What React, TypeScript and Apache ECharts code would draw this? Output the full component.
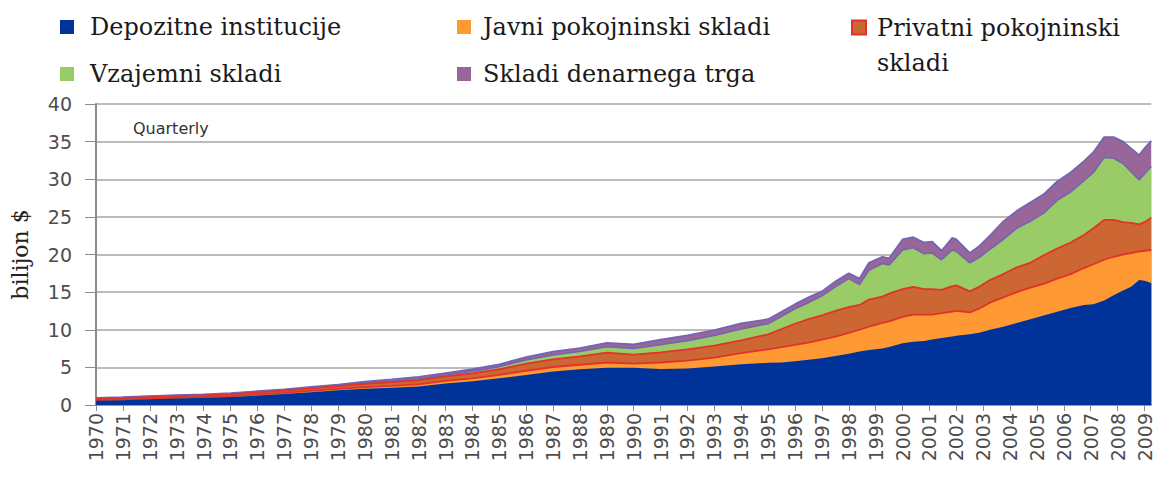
import React, { useEffect, useRef } from "react";
import * as echarts from "echarts";

// Sample dates (decimal years)
const dates = [
  1970, 1971, 1972, 1973, 1974, 1975, 1976, 1977, 1978, 1979,
  1980, 1981, 1982, 1983, 1984, 1985, 1986, 1987, 1988, 1989,
  1990, 1991, 1992, 1993, 1994,
  1995, 1995.5, 1996, 1996.5, 1997, 1997.5, 1998, 1998.4, 1998.75, 1999.25,
  1999.5, 2000, 2000.4, 2000.8, 2001.1, 2001.45, 2001.85, 2002, 2002.5, 2002.85,
  2003.25, 2003.75, 2004.25, 2004.75, 2005.25, 2005.75, 2006.25, 2006.75, 2007.1, 2007.5,
  2007.85, 2008.2, 2008.5, 2008.8, 2009, 2009.25,
];

// Values in trillion $ (each layer of the stack)
const depozitne = [
  0.55, 0.62, 0.75, 0.85, 0.95, 1.05, 1.25, 1.45, 1.7, 1.95,
  2.15, 2.3, 2.45, 2.85, 3.15, 3.55, 4.0, 4.45, 4.75, 4.95,
  4.95, 4.8, 4.85, 5.1, 5.4,
  5.6, 5.65, 5.8, 6.0, 6.2, 6.5, 6.8, 7.1, 7.3, 7.5,
  7.7, 8.2, 8.4, 8.5, 8.7, 8.9, 9.1, 9.2, 9.4, 9.6,
  10.0, 10.4, 10.9, 11.4, 11.9, 12.4, 12.9, 13.3, 13.4, 13.9,
  14.6, 15.2, 15.7, 16.6, 16.5, 16.2,
];
const javni = [
  0.1, 0.1, 0.11, 0.11, 0.12, 0.13, 0.15, 0.17, 0.18, 0.2,
  0.22, 0.25, 0.3, 0.35, 0.4, 0.45, 0.55, 0.6, 0.6, 0.7,
  0.55, 0.85, 1.05, 1.2, 1.5,
  1.8, 2.05, 2.2, 2.3, 2.5, 2.6, 2.8, 2.9, 3.1, 3.4,
  3.4, 3.5, 3.6, 3.5, 3.3, 3.3, 3.3, 3.3, 2.9, 3.2,
  3.6, 3.9, 4.1, 4.2, 4.2, 4.4, 4.5, 4.9, 5.3, 5.4,
  5.1, 4.8, 4.5, 3.8, 4.0, 4.4,
];
const privatni = [
  0.15, 0.18, 0.19, 0.2, 0.2, 0.24, 0.28, 0.3, 0.34, 0.37,
  0.45, 0.5, 0.55, 0.6, 0.65, 0.75, 0.95, 1.0, 1.1, 1.3,
  1.2, 1.35, 1.5, 1.6, 1.7,
  2.0, 2.4, 2.8, 3.1, 3.2, 3.4, 3.4, 3.3, 3.6, 3.5,
  3.7, 3.7, 3.7, 3.4, 3.4, 3.1, 3.4, 3.4, 2.8, 2.9,
  3.0, 3.1, 3.3, 3.3, 3.8, 4.0, 4.2, 4.4, 4.8, 5.3,
  4.9, 4.3, 4.0, 3.6, 3.8, 4.3,
];
const vzajemni = [
  0.08, 0.08, 0.09, 0.08, 0.06, 0.07, 0.08, 0.08, 0.08, 0.08,
  0.1, 0.1, 0.15, 0.2, 0.25, 0.35, 0.5, 0.6, 0.65, 0.8,
  0.8, 1.0, 1.15, 1.35, 1.5,
  1.4, 1.7, 2.0, 2.2, 2.6, 3.2, 3.8, 2.7, 3.9, 4.4,
  3.8, 5.2, 5.2, 4.7, 4.8, 4.0, 4.8, 4.5, 3.8, 3.9,
  4.1, 4.6, 5.2, 5.5, 5.6, 6.4, 6.7, 7.2, 7.4, 8.3,
  8.2, 7.8, 6.8, 5.9, 6.4, 6.8,
];
const denarni = [
  0.05, 0.05, 0.05, 0.06, 0.07, 0.08, 0.07, 0.08, 0.1, 0.12,
  0.18, 0.25, 0.3, 0.25, 0.3, 0.3, 0.35, 0.45, 0.45, 0.5,
  0.55, 0.7, 0.7, 0.7, 0.75,
  0.6, 0.6, 0.6, 0.7, 0.6, 0.7, 0.7, 0.8, 1.0, 0.9,
  0.9, 1.4, 1.4, 1.5, 1.5, 1.2, 1.6, 1.6, 1.3, 1.5,
  1.8, 2.4, 2.3, 2.5, 2.5, 2.5, 2.6, 2.6, 2.7, 2.7,
  2.8, 2.9, 3.1, 3.3, 3.4, 3.4,
];

const yearLabels = [
  1970, 1971, 1972, 1973, 1974, 1975, 1976, 1977, 1978, 1979,
  1980, 1981, 1982, 1983, 1984, 1985, 1986, 1987, 1988, 1989,
  1990, 1991, 1992, 1993, 1994, 1995, 1996, 1997, 1998, 1999,
  2000, 2001, 2002, 2003, 2004, 2005, 2006, 2007, 2008, 2009,
];

const N_DEP = "Depozitne institucije";
const N_JAV = "Javni pokojninski skladi";
const N_PRI = "Privatni pokojninski skladi";
const N_VZA = "Vzajemni skladi";
const N_DEN = "Skladi denarnega trga";

const C_BLUE = "#003399";
const C_ORANGE = "#FF9933";
const C_BROWN = "#CC6633";
const C_RED = "#E0342A";
const C_GREEN = "#99CC66";
const C_PURPLE = "#996699";
const C_PEDGE = "#7464B4";

export default function App() {
  const ref = useRef<HTMLDivElement>(null);

  useEffect(() => {
    if (!ref.current) return;
    const chart = echarts.init(ref.current, null, { renderer: "svg" });

    // stacked tops built from the layer arrays (areas drawn back-to-front)
    const layers = [depozitne, javni, privatni, vzajemni, denarni];
    const tops = layers.map((_, k) =>
      dates.map((_, i) => {
        let s = 0;
        for (let j = 0; j <= k; j++) s += layers[j][i];
        return Math.round(s * 1000) / 1000;
      })
    );

    const mk = (
      name: string,
      k: number,
      color: string,
      lineColor: string,
      lineWidth: number
    ) => ({
      name,
      type: "line",
      data: dates.map((d, i) => [d, tops[k][i]]),
      symbol: "none",
      showSymbol: false,
      itemStyle: { color },
      lineStyle: { color: lineColor, width: lineWidth },
      areaStyle: { color, opacity: 1 },
      emphasis: { disabled: true },
      z: 10 - k,
    });

    const legendText = {
      fontFamily: "DejaVu Serif",
      fontSize: 24,
      color: "#1a1a1a",
      lineHeight: 28,
    };
    const legendBase = {
      padding: 0,
      icon: "rect",
      itemWidth: 14,
      itemHeight: 14,
      selectedMode: false,
    };

    chart.setOption({
      animation: false,
      title: {
        text: "Quarterly",
        left: 133,
        top: 120,
        padding: 0,
        textStyle: {
          fontFamily: "DejaVu Sans",
          fontSize: 16,
          fontWeight: "normal",
          color: "#333333",
        },
      },
      legend: [
        {
          ...legendBase,
          left: 60,
          top: 13,
          data: [{ name: N_DEP, itemStyle: { color: C_BLUE } }],
          textStyle: { ...legendText, padding: [0, 0, 0, 11] },
        },
        {
          ...legendBase,
          left: 457,
          top: 13,
          data: [{ name: N_JAV, itemStyle: { color: C_ORANGE } }],
          textStyle: { ...legendText, padding: [0, 0, 0, 7] },
        },
        {
          ...legendBase,
          left: 851,
          top: 10,
          itemHeight: 49,
          icon: "path://M0,0L14,0L14,14L0,14Z M0,49",
          data: [
            {
              name: N_PRI,
              itemStyle: { color: C_BROWN, borderColor: C_RED, borderWidth: 2 },
            },
          ],
          formatter: () => "Privatni pokojninski\nskladi",
          textStyle: { ...legendText, lineHeight: 35, padding: [0, 0, 0, 6] },
        },
        {
          ...legendBase,
          left: 60,
          top: 60,
          data: [{ name: N_VZA, itemStyle: { color: C_GREEN } }],
          textStyle: { ...legendText, padding: [0, 0, 0, 11] },
        },
        {
          ...legendBase,
          left: 457,
          top: 60,
          data: [{ name: N_DEN, itemStyle: { color: C_PURPLE } }],
          textStyle: { ...legendText, padding: [0, 0, 0, 7] },
        },
      ],
      grid: { left: 96, right: 2, top: 104, bottom: 78, containLabel: false },
      xAxis: {
        type: "value",
        min: 1970,
        max: 2009.25,
        axisLine: { show: true, lineStyle: { color: "#8c8c8c", width: 1.5 } },
        axisTick: {
          show: true,
          customValues: yearLabels,
          length: 6,
          lineStyle: { color: "#8c8c8c" },
        },
        axisLabel: {
          customValues: yearLabels,
          rotate: 90,
          margin: 8,
          fontFamily: "DejaVu Sans",
          fontSize: 19,
          color: "#4d4d4d",
          formatter: (v: number) => String(v),
        },
        splitLine: { show: false },
      },
      yAxis: {
        type: "value",
        min: 0,
        max: 40,
        interval: 5,
        name: "bilijon $",
        nameLocation: "middle",
        nameGap: 65,
        nameTextStyle: {
          fontFamily: "DejaVu Serif",
          fontSize: 22,
          color: "#222222",
        },
        axisLine: { show: true, lineStyle: { color: "#8c8c8c", width: 2 } },
        axisTick: { show: true, length: 11, lineStyle: { color: "#8c8c8c" } },
        axisLabel: {
          margin: 24,
          fontFamily: "DejaVu Sans",
          fontSize: 19,
          color: "#4d4d4d",
        },
        splitLine: { show: true, lineStyle: { color: "#a6a6a6", width: 1.5 } },
      },
      series: [
        mk(N_DEP, 0, C_BLUE, C_BLUE, 0),
        mk(N_JAV, 1, C_ORANGE, C_RED, 1.8),
        mk(N_PRI, 2, C_BROWN, C_RED, 1.8),
        mk(N_VZA, 3, C_GREEN, C_PEDGE, 1.6),
        mk(N_DEN, 4, C_PURPLE, C_PEDGE, 1.8),
      ],
    });

    return () => chart.dispose();
  }, []);

  return (
    <div
      ref={ref}
      style={{ position: "absolute", left: 0, top: 0, width: 1154, height: 483 }}
    />
  );
}
